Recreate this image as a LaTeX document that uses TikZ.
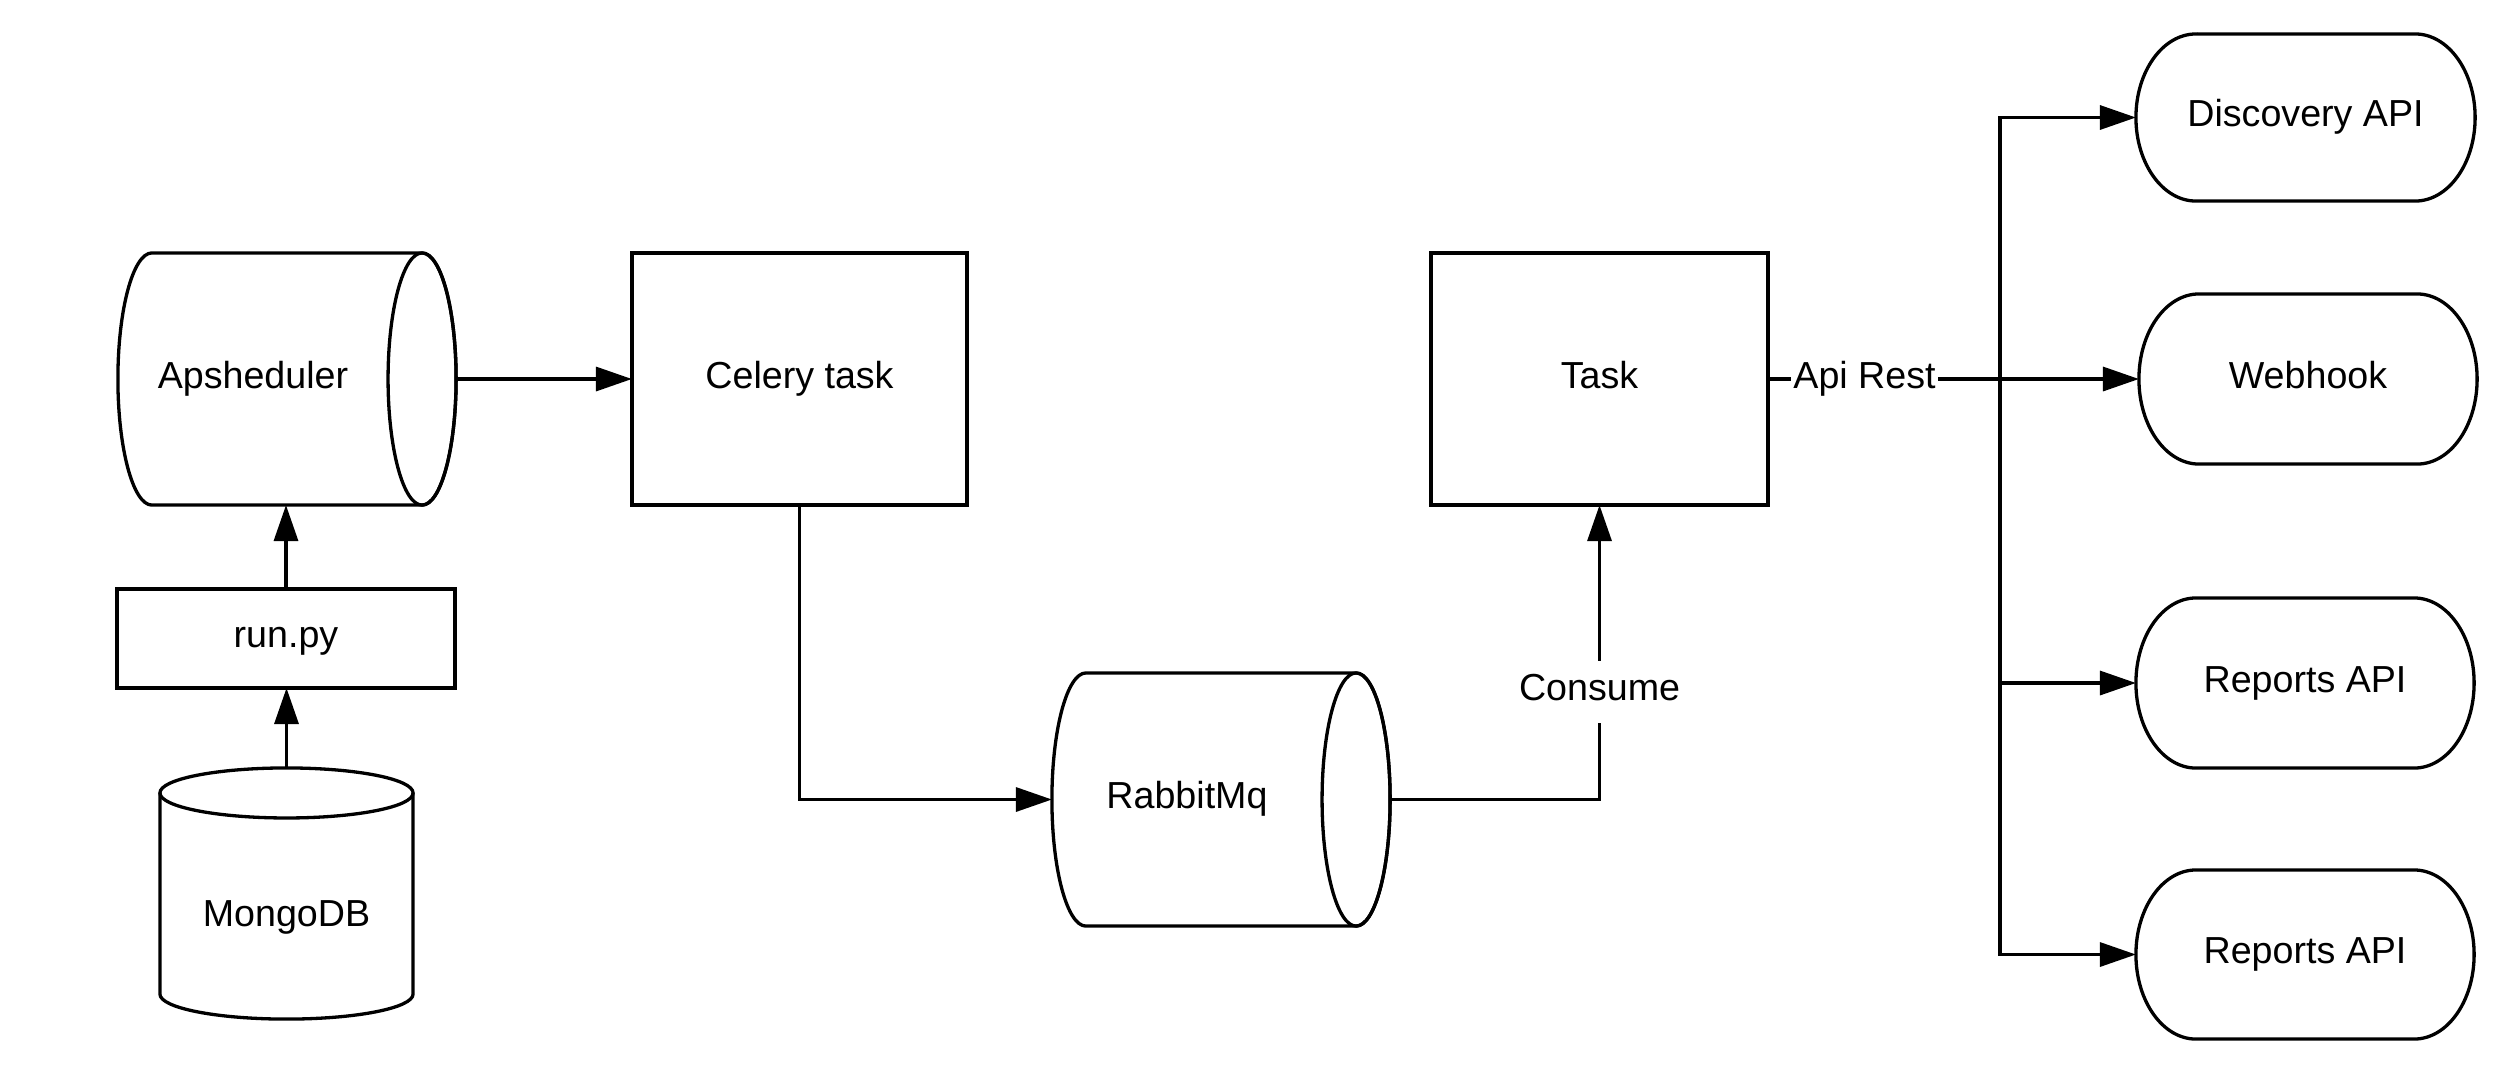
\documentclass[tikz,border=0pt]{standalone}
\usepackage{fontspec}
\setmainfont{Liberation Sans}
\usetikzlibrary{arrows.meta}
\newcommand\stadiumpath[2]{\draw ([xshift=0.6cm]#1.north west) -- ([xshift=-0.6cm]#1.north east) arc[start angle=90,end angle=-90,x radius=0.6cm,y radius=#2] -- ([xshift=0.6cm]#1.south west) arc[start angle=270,end angle=90,x radius=0.6cm,y radius=#2] -- cycle;}
\begin{document}
\begin{tikzpicture}[x=0.01cm,y=-0.01cm,
  line width=0.033cm,
  font=\fontsize{10.7}{12.8}\selectfont,
  every node/.append style={text height=0.27cm, text depth=0.09cm},
  shp/.style={inner sep=0pt, outer sep=0pt},
  boxr/.style={draw, rectangle, shp},
  arr/.style={-{Triangle[length=0.36cm,width=0.24cm]}},
  lblv/.style={fill=white, inner xsep=0.05cm, inner ysep=0.13cm},
  lblh/.style={fill=white, inner xsep=0.02cm, inner ysep=0.03cm}]
\useasboundingbox (0,0) rectangle (2507,1069);

% Apsheduler (horizontal cylinder)
\node[shp, minimum width=3.38cm, minimum height=2.52cm, label={[xshift=-0.34cm]center:Apsheduler}] (aps) at (287,379) {};
\draw ([xshift=0.34cm]aps.north west) -- ([xshift=-0.34cm]aps.north east) arc[start angle=90,end angle=-90,x radius=0.34cm,y radius=1.26cm] -- ([xshift=0.34cm]aps.south west) arc[start angle=270,end angle=90,x radius=0.34cm,y radius=1.26cm] -- cycle;
\draw ([xshift=-0.34cm]aps.east) ellipse[x radius=0.34cm,y radius=1.26cm];

% Rectangles
\node[boxr, minimum width=3.35cm, minimum height=2.52cm] (cel) at (799.5,379) {Celery task};
\node[boxr, minimum width=3.37cm, minimum height=2.52cm] (task) at (1599.5,379) {Task};
\node[boxr, minimum width=3.38cm, minimum height=0.99cm] (run) at (286,638.5) {run.py};

% MongoDB (vertical cylinder)
\node[shp, minimum width=2.53cm, minimum height=2.51cm, label={[yshift=-0.24cm]center:MongoDB}] (mongo) at (286.5,893.5) {};
\draw ([yshift=-0.25cm]mongo.north west) -- ([yshift=0.25cm]mongo.south west) arc[start angle=180,end angle=360,x radius=1.265cm,y radius=0.25cm] -- ([yshift=-0.25cm]mongo.north east);
\draw ([yshift=-0.25cm]mongo.north) ellipse[x radius=1.265cm,y radius=0.25cm];

% RabbitMq (horizontal cylinder)
\node[shp, minimum width=3.38cm, minimum height=2.53cm, label={[xshift=-0.34cm]center:RabbitMq}] (rab) at (1221,799.5) {};
\draw ([xshift=0.34cm]rab.north west) -- ([xshift=-0.34cm]rab.north east) arc[start angle=90,end angle=-90,x radius=0.34cm,y radius=1.265cm] -- ([xshift=0.34cm]rab.south west) arc[start angle=270,end angle=90,x radius=0.34cm,y radius=1.265cm] -- cycle;
\draw ([xshift=-0.34cm]rab.east) ellipse[x radius=0.34cm,y radius=1.265cm];

% Stadium nodes
\node[shp, minimum width=3.39cm, minimum height=1.67cm] (disc) at (2305.5,117.5) {Discovery API};
\stadiumpath{disc}{0.835cm}
\node[shp, minimum width=3.38cm, minimum height=1.70cm] (web) at (2308,379) {Webhook};
\stadiumpath{web}{0.85cm}
\node[shp, minimum width=3.38cm, minimum height=1.70cm] (rep1) at (2305,683) {Reports API};
\stadiumpath{rep1}{0.85cm}
\node[shp, minimum width=3.38cm, minimum height=1.69cm] (rep2) at (2305,954.5) {Reports API};
\stadiumpath{rep2}{0.845cm}

% Connectors
\draw[arr] (aps.east) -- (cel.west);
\draw[arr] (run.north) -- (run.north |- aps.south);
\draw[arr] (mongo.north) -- (mongo.north |- run.south);
\draw[arr] (cel.south) |- (rab.west);
\draw[arr] (rab.east) -| node[lblv, pos=0.683] (cons) {Consume} (task.south);
\draw[arr] (task.east) -- node[lblh, pos=0.26] (api) {Api Rest} (web.west);
\coordinate (j) at (2000,379);
\draw[arr] (j) |- (disc.west);
\draw[arr] (j) |- (rep1.west);
\draw[arr] (j) |- (rep2.west);
\end{tikzpicture}
\end{document}
